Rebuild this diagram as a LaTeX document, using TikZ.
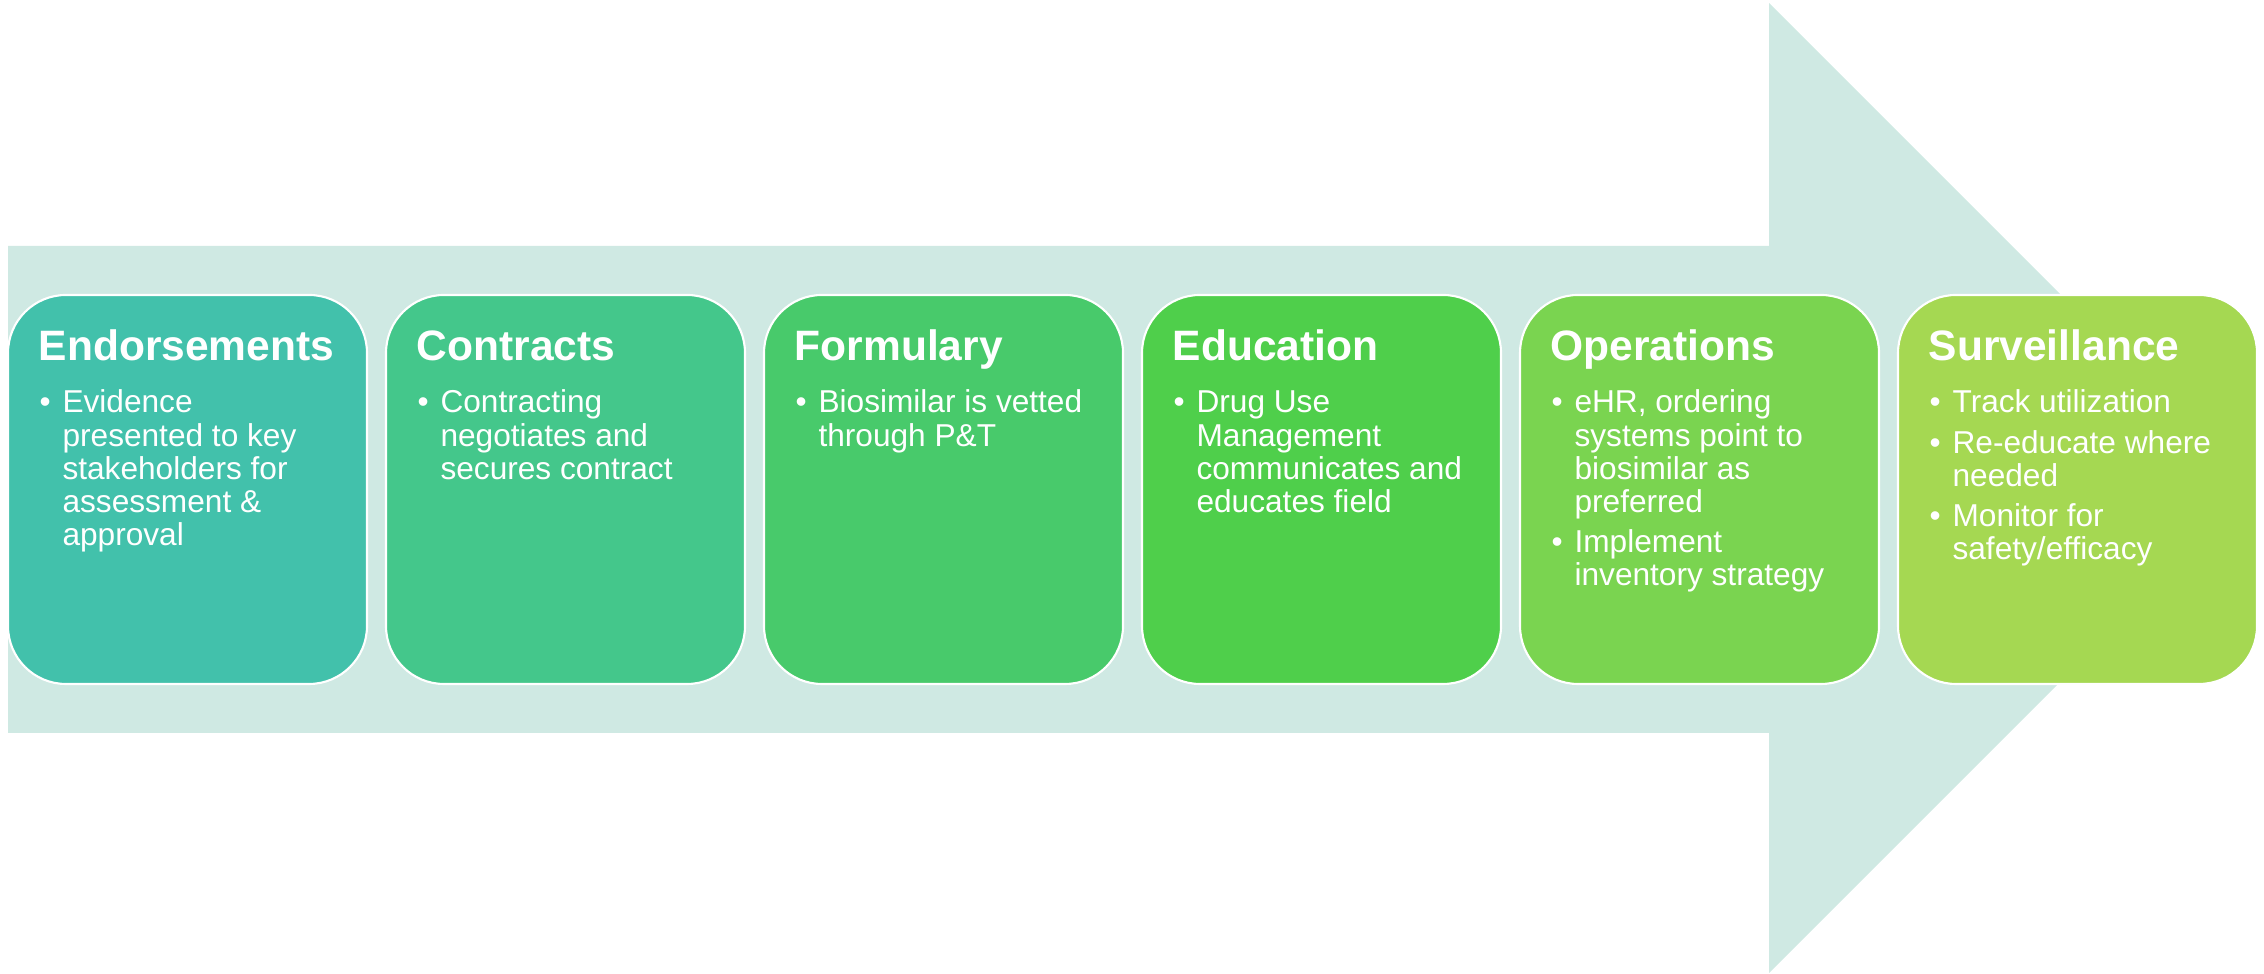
\documentclass[tikz,border=0pt]{standalone}
\usepackage{fontspec}
\setmainfont{Liberation Sans}
\usetikzlibrary{positioning, calc}
\definecolor{arrowbg}{RGB}{207,233,227}
\definecolor{endcolor}{RGB}{66,193,171}
\definecolor{concolor}{RGB}{68,199,139}
\definecolor{formcolor}{RGB}{72,202,107}
\definecolor{educolor}{RGB}{79,207,75}
\definecolor{opcolor}{RGB}{122,212,80}
\definecolor{survcolor}{RGB}{165,216,82}
\newcommand{\bul}{\makebox[6.5pt][l]{\textbullet}}
\newcommand{\blist}[1]{\begin{tabular}[t]{@{}l@{}l@{}}#1\end{tabular}}
\tikzset{
    stage/.style={
        rectangle, draw=white, line width=0.6pt, rounded corners=0.58cm,
        minimum width=3.59cm, minimum height=3.89cm, inner sep=0pt, outer sep=0pt
    },
    stagetitle/.style={
        anchor=base west, inner sep=0pt, text=white,
        font=\fontsize{12.1}{14}\selectfont\bfseries
    },
    stagetext/.style={
        anchor=base west, inner sep=0pt, text=white,
        font=\fontsize{9}{9.4}\selectfont
    }
}

\begin{document}
\begin{tikzpicture}
\useasboundingbox (0,0) rectangle (22.64,9.74);

% Background arrow
\fill[arrowbg] (0.08,7.28) -- (17.69,7.28) -- (17.69,9.71) -- (22.54,4.86)
    -- (17.69,0.01) -- (17.69,2.41) -- (0.08,2.41) -- cycle;

% Stages
\node[stage, fill=endcolor] (endorse) at (1.875,4.845) {};
\node[stage, fill=concolor, right=0.19cm of endorse] (contract) {};
\node[stage, fill=formcolor, right=0.19cm of contract] (formulary) {};
\node[stage, fill=educolor, right=0.19cm of formulary] (educate) {};
\node[stage, fill=opcolor, right=0.19cm of educate] (operate) {};
\node[stage, fill=survcolor, right=0.19cm of operate] (surveil) {};

% Titles
\node[stagetitle] (endorsettl) at ($(endorse.north west)+(0.30,-0.66)$) {Endorsements};
\node[stagetitle] (contractttl) at ($(contract.north west)+(0.30,-0.66)$) {Contracts};
\node[stagetitle] (formularyttl) at ($(formulary.north west)+(0.30,-0.66)$) {Formulary};
\node[stagetitle] (educatettl) at ($(educate.north west)+(0.30,-0.66)$) {Education};
\node[stagetitle] (operatettl) at ($(operate.north west)+(0.30,-0.66)$) {Operations};
\node[stagetitle] (surveilttl) at ($(surveil.north west)+(0.30,-0.66)$) {Surveillance};

% Bullet points
\node[stagetext] (endorsetxt) at ($(endorse.north west)+(0.31,-1.18)$) {\blist{
    \bul & Evidence\\ & presented to key\\ & stakeholders for\\ & assessment \&\\ & approval}};
\node[stagetext] (contracttxt) at ($(contract.north west)+(0.31,-1.18)$) {\blist{
    \bul & Contracting\\ & negotiates and\\ & secures contract}};
\node[stagetext] (formularytxt) at ($(formulary.north west)+(0.31,-1.18)$) {\blist{
    \bul & Biosimilar is vetted\\ & through P\&T}};
\node[stagetext] (educatetxt) at ($(educate.north west)+(0.31,-1.18)$) {\blist{
    \bul & Drug Use\\ & Management\\ & communicates and\\ & educates field}};
\node[stagetext] (operatetxt) at ($(operate.north west)+(0.31,-1.18)$) {\blist{
    \bul & eHR, ordering\\ & systems point to\\ & biosimilar as\\ & preferred\\[2pt]
    \bul & Implement\\ & inventory strategy}};
\node[stagetext] (surveiltxt) at ($(surveil.north west)+(0.31,-1.18)$) {\blist{
    \bul & Track utilization\\[2pt]
    \bul & Re-educate where\\ & needed\\[2pt]
    \bul & Monitor for\\ & safety/efficacy}};

\end{tikzpicture}
\end{document}
